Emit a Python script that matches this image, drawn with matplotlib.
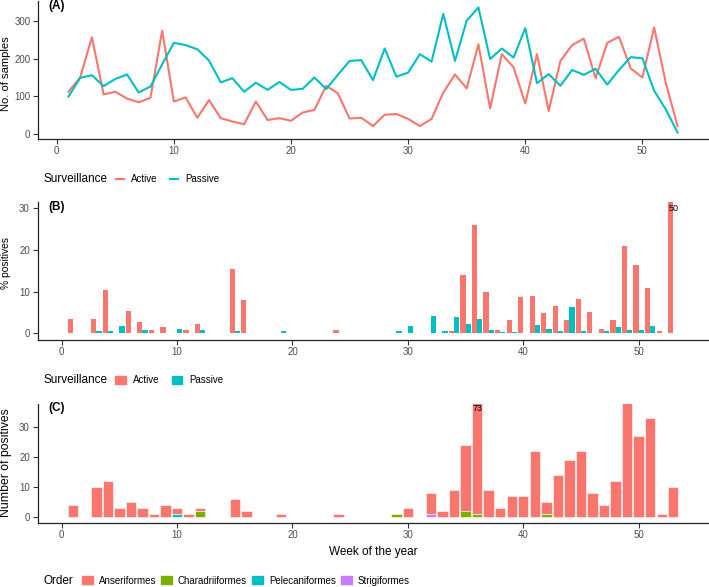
import matplotlib
matplotlib.use("Agg")
import matplotlib.pyplot as plt
from matplotlib.lines import Line2D
from matplotlib.patches import Patch
import numpy as np

plt.rcParams['font.family'] = ['Liberation Sans', 'DejaVu Sans']

# ---- data ----
weeks = np.arange(1, 54)

# (A) number of samples per week
active_samples = [112, 150, 257, 105, 112, 94, 84, 96, 274, 86,
                  97, 43, 90, 42, 33, 26, 86, 37, 42, 35,
                  57, 64, 128, 108, 41, 43, 21, 51, 53, 40,
                  21, 40, 110, 158, 121, 238, 68, 212, 177, 81,
                  212, 61, 194, 236, 253, 148, 242, 258, 174, 150,
                  283, 135, 21]
passive_samples = [99, 149, 156, 127, 146, 158, 110, 126, 185, 242,
                   236, 225, 195, 137, 148, 112, 136, 117, 138, 117,
                   120, 150, 119, 157, 194, 196, 143, 227, 152, 163,
                   212, 192, 319, 194, 301, 336, 199, 227, 203, 281,
                   135, 159, 128, 170, 157, 173, 131, 170, 204, 201,
                   115, 65, 4]

# (B) % positives
active_pct_weeks = [1, 3, 4, 6, 7, 8, 9, 11, 12, 15, 16, 24,
                    34, 35, 36, 37, 38, 39, 40, 41, 42, 43, 44, 45, 46,
                    47, 48, 49, 50, 51, 52, 53]
active_pct = [3.5, 3.4, 10.3, 5.4, 2.6, 0.8, 1.4, 0.8, 2.2, 15.4, 7.9, 0.8,
              0.5, 14.0, 26.0, 10.0, 0.8, 3.2, 8.6, 9.0, 4.8, 6.6, 3.2, 8.2, 5.1,
              1.1, 3.3, 21.0, 16.5, 10.9, 0.6, 50.0]
passive_pct_weeks = [3, 4, 5, 7, 10, 12, 15, 19, 29, 30, 32, 33, 34, 35, 36,
                     37, 38, 39, 41, 42, 43, 44, 45, 47, 48, 49, 50, 51]
passive_pct = [0.6, 0.6, 1.8, 0.8, 1.1, 0.8, 0.5, 0.6, 0.6, 1.8, 4.2, 0.5, 4.0, 2.2, 3.4,
               0.8, 0.3, 0.3, 2.1, 1.0, 0.6, 6.4, 0.5, 0.6, 1.5, 0.8, 0.8, 1.7]

# (C) number of positives by order
weeks_c = [1, 3, 4, 5, 6, 7, 8, 9, 10, 11, 12, 15, 16, 19, 24,
           29, 30, 32, 33, 34, 35, 36, 37, 38, 39, 40, 41, 42, 43, 44,
           45, 46, 47, 48, 49, 50, 51, 52, 53]
anseriformes = [4, 10, 12, 3, 5, 3, 1, 4, 2, 1, 1, 6, 2, 1, 1,
                0, 3, 7, 2, 9, 22, 72, 9, 3, 7, 7, 22, 4, 14, 19,
                22, 8, 4, 12, 38, 27, 33, 1, 10]
charadriiformes = [0, 0, 0, 0, 0, 0, 0, 0, 0, 0, 2, 0, 0, 0, 0,
                   1, 0, 0, 0, 0, 2, 1, 0, 0, 0, 0, 0, 1, 0, 0,
                   0, 0, 0, 0, 0, 0, 0, 0, 0]
pelecaniformes = [0, 0, 0, 0, 0, 0, 0, 0, 1, 0, 0, 0, 0, 0, 0,
                  0, 0, 0, 0, 0, 0, 0, 0, 0, 0, 0, 0, 0, 0, 0,
                  0, 0, 0, 0, 0, 0, 0, 0, 0]
strigiformes = [0, 0, 0, 0, 0, 0, 0, 0, 0, 0, 0, 0, 0, 0, 0,
                0, 0, 1, 0, 0, 0, 0, 0, 0, 0, 0, 0, 0, 0, 0,
                0, 0, 0, 0, 0, 0, 0, 0, 0]

RED = '#F8766D'
TEAL = '#00BFC4'
GREEN = '#7CAE00'
PURPLE = '#C77CFF'

W, H = 709, 587
fig = plt.figure(figsize=(W / 100, H / 100), dpi=100)
axA = fig.add_axes([38 / W, 448.3 / H, 670 / W, 137.5 / H])
axB = fig.add_axes([37.5 / W, 247.5 / H, 671.5 / W, 137.5 / H])
axC = fig.add_axes([37.5 / W, 64.3 / H, 671.5 / W, 119.2 / H])


def style(ax):
    for s in ['top', 'right']:
        ax.spines[s].set_visible(False)
    for s in ['left', 'bottom']:
        ax.spines[s].set_color('#222222')
        ax.spines[s].set_linewidth(0.9)
    ax.tick_params(colors='#333333', labelcolor='#4D4D4D', labelsize=7,
                   length=3.5, width=0.8, pad=2)
    ax.set_xticks([0, 10, 20, 30, 40, 50])


# (A)
axA.plot(weeks, active_samples, color=RED, lw=1.5)
axA.plot(weeks, passive_samples, color=TEAL, lw=1.5)
axA.set_xlim(-1.6, 55.6)
axA.set_ylim(-12.6, 352.6)
axA.set_yticks([0, 100, 200, 300])
style(axA)
axA.text(0.028, 0.967, '(A)', transform=axA.transAxes, fontsize=8.5,
         fontweight='bold', ha='center', va='center')

# (B)
axB.bar(np.array(active_pct_weeks) - 0.225, active_pct, width=0.45, color=RED)
axB.bar(np.array(passive_pct_weeks) + 0.225, passive_pct, width=0.45, color=TEAL)
axB.set_xlim(-2.1, 56.1)
axB.set_ylim(-1.5, 31.5)
axB.set_yticks([0, 10, 20, 30])
style(axB)
axB.text(0.029, 0.966, '(B)', transform=axB.transAxes, fontsize=8.5,
         fontweight='bold', ha='center', va='center')
axB.text(53, 30, '50', fontsize=6.5, ha='center', va='center')

# (C) stacked from bottom: Strigiformes, Pelecaniformes, Charadriiformes, Anseriformes
bottom = np.zeros(len(weeks_c))
for vals, col in [(strigiformes, PURPLE), (pelecaniformes, TEAL),
                  (charadriiformes, GREEN), (anseriformes, RED)]:
    vals = np.array(vals, dtype=float)
    m = vals > 0
    axC.bar(np.array(weeks_c)[m], vals[m], bottom=bottom[m], width=0.9,
            color=col, edgecolor='white', linewidth=0.4)
    bottom += vals
axC.set_xlim(-2.1, 56.1)
axC.set_ylim(-1.8, 37.8)
axC.set_yticks([0, 10, 20, 30])
style(axC)
axC.set_xlabel('Week of the year', fontsize=8.5, labelpad=4)
axC.text(0.029, 0.96, '(C)', transform=axC.transAxes, fontsize=8.5,
         fontweight='bold', ha='center', va='center')
axC.text(36, 36, '73', fontsize=6.5, ha='center', va='center')

# y titles
fig.text(6.5 / W, 1 - 74 / H, 'No. of samples', fontsize=8.1, rotation=90,
         ha='center', va='center')
fig.text(6 / W, 1 - 262.5 / H, '% positives', fontsize=7.4, rotation=90,
         ha='center', va='center')
fig.text(6 / W, 1 - 463 / H, 'Number of positives', fontsize=8.8, rotation=90,
         ha='center', va='center')

# legends
leg_kw = dict(loc='center left', frameon=False, borderpad=0, borderaxespad=0,
              fontsize=7, handletextpad=0.7, columnspacing=1.3)

fig.text(43 / W, 1 - 179 / H, 'Surveillance', fontsize=8.5, va='center')
fig.legend([Line2D([], [], color=RED, lw=1.5), Line2D([], [], color=TEAL, lw=1.5)],
           ['Active', 'Passive'], ncol=2, handlelength=0.85,
           bbox_to_anchor=(116 / W, 1 - 179 / H), **leg_kw)

fig.text(43 / W, 1 - 380 / H, 'Surveillance', fontsize=8.5, va='center')
fig.legend([Patch(color=RED), Patch(color=TEAL)], ['Active', 'Passive'], ncol=2,
           handlelength=1.1, handleheight=0.85,
           bbox_to_anchor=(115 / W, 1 - 380 / H), **leg_kw)

fig.text(43 / W, 1 - 580.5 / H, 'Order', fontsize=8.5, va='center')
leg_kw['columnspacing'] = 0.55
leg_kw['handletextpad'] = 0.6
fig.legend([Patch(color=RED), Patch(color=GREEN), Patch(color=TEAL), Patch(color=PURPLE)],
           ['Anseriformes', 'Charadriiformes', 'Pelecaniformes', 'Strigiformes'],
           ncol=4, handlelength=1.1, handleheight=0.85,
           bbox_to_anchor=(82 / W, 1 - 580.5 / H), **leg_kw)

fig.savefig('out.png', dpi=100)
